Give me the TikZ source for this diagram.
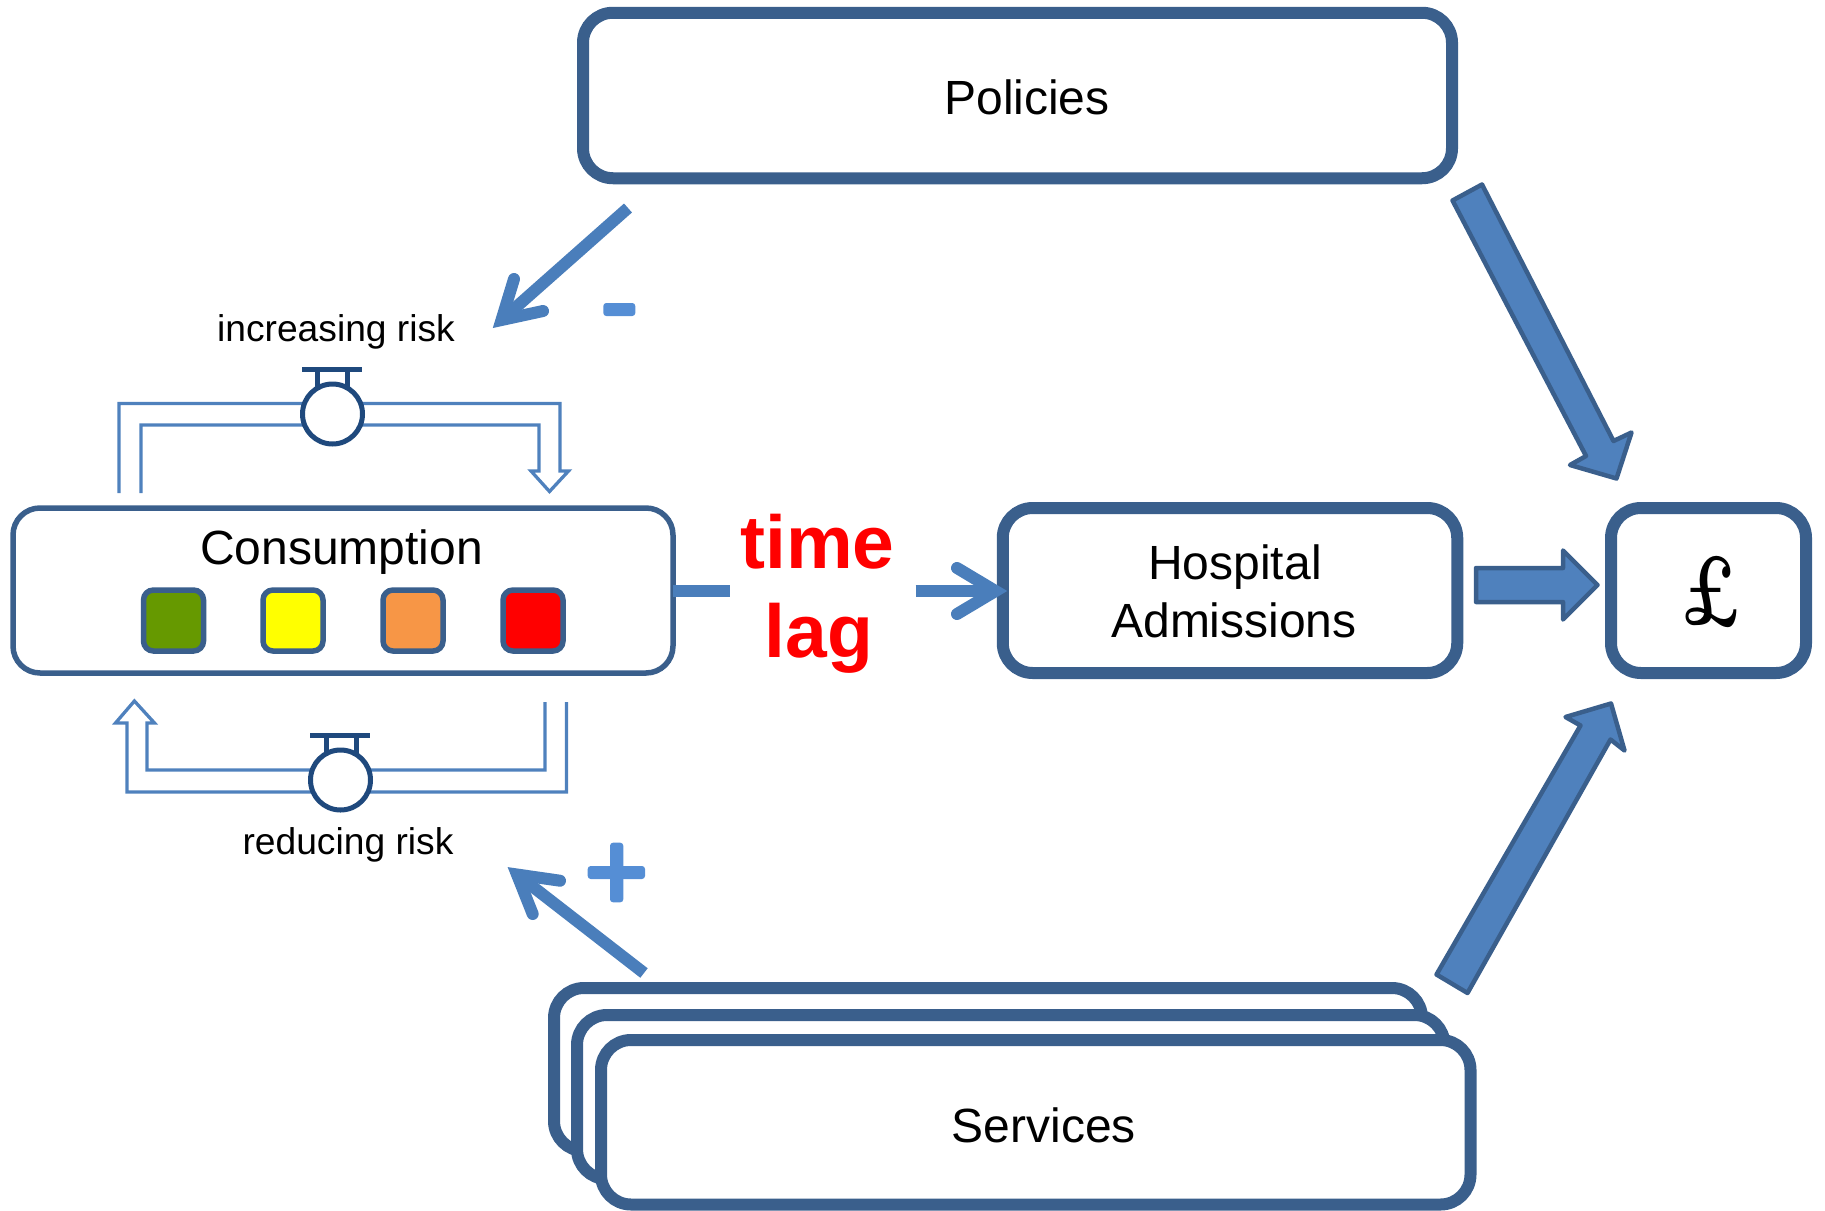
\documentclass[tikz,border=0pt]{standalone}
\usepackage{fontspec}
\setmainfont{Liberation Sans}
\newfontfamily\lmfont{Latin Modern Roman}
\definecolor{boxc}{HTML}{3A5F8C}
\definecolor{fillc}{HTML}{4F81BD}
\definecolor{thinc}{HTML}{4A7EBB}
\definecolor{valvec}{HTML}{1F497D}
\definecolor{signc}{HTML}{558ED5}
\definecolor{lampg}{RGB}{102,153,0}
\definecolor{lampy}{RGB}{255,255,0}
\definecolor{lampo}{RGB}{247,150,70}
\definecolor{lampr}{RGB}{255,0,0}
\tikzset{
  x=1pt,y=-1pt,
  bigbox/.style={draw=boxc,fill=white,line width=12pt,rounded corners=30pt,inner sep=0pt,outer sep=0pt},
  consbox/.style={draw=boxc,fill=white,line width=5.5pt,rounded corners=27pt,inner sep=0pt,outer sep=0pt},
  lamp/.style={draw=boxc,line width=5.5pt,rounded corners=10pt,inner sep=0pt,outer sep=0pt,minimum width=60pt,minimum height=61pt},
  lbl/.style={anchor=base,inner sep=0pt,outer sep=0pt,text=black},
  bigtxt/.style={lbl,font=\fontsize{48}{58}\selectfont},
  smalltxt/.style={lbl,font=\fontsize{37.2}{44}\selectfont},
  lagtxt/.style={lbl,text=lampr,font=\fontsize{75}{88}\selectfont\bfseries},
  blockarrow/.style={draw=boxc,fill=fillc,line width=4.5pt,line join=round},
  pipe/.style={draw=fillc,line width=3.3pt,line join=miter},
  valve/.style={draw=valvec,fill=white,line width=5pt,circle,minimum size=60pt,inner sep=0pt,outer sep=0pt},
  valvebar/.style={draw=valvec,line width=5.5pt},
  valvestem/.style={draw=valvec,line width=5pt},
  thinshaft/.style={draw=thinc,line width=12pt},
  thinhead/.style={draw=thinc,line width=12pt,line cap=round,line join=miter},
  signbar/.style={fill=signc,rounded corners=3pt,inner sep=0pt,outer sep=0pt}
}
\begin{document}
\begin{tikzpicture}
\useasboundingbox (0,0) rectangle (1825,1210);

% main boxes
\node[bigbox,minimum width=869pt,minimum height=165.5pt] (policies) at (1017.5,95.5) {};
\node[bigbox,minimum width=454.5pt,minimum height=165pt] (hospital) at (1230,590.5) {};
\node[bigbox,minimum width=195pt,minimum height=165pt] (pound) at (1708.5,590.5) {};
\node[bigbox,minimum width=868pt,minimum height=163pt] (serv1) at (988,1069.5) {};
\node[bigbox,minimum width=867.5pt,minimum height=164pt] (serv2) at (1010.75,1097) {};
\node[bigbox,minimum width=869.5pt,minimum height=164.5pt] (serv3) at (1035.75,1122.25) {};
\node[consbox,minimum width=660pt,minimum height=165pt] (consumption) at (343,590.5) {};

% lamps
\node[lamp,fill=lampg] (lamp1) at (173.5,620.5) {};
\node[lamp,fill=lampy] (lamp2) at (293,620.5) {};
\node[lamp,fill=lampo] (lamp3) at (413,620.5) {};
\node[lamp,fill=lampr] (lamp4) at (533,620.5) {};

% texts
\node[bigtxt] (tpolicies) at (1027,114) {Policies};
\node[bigtxt] (tconsumption) at (341.5,564) {Consumption};
\node[bigtxt] (tservices) at (1043.7,1142) {Services};
\node[bigtxt] (thospital) at (1235,579) {Hospital};
\node[bigtxt] (tadmissions) at (1234,637) {Admissions};
\node[lagtxt] (ttime) at (817.5,568) {time};
\node[lagtxt] (tlag) at (819,657.5) {lag};
\node[smalltxt] (tinc) at (336,341) {increasing risk};
\node[smalltxt] (tred) at (348,854.6) {reducing risk};
\node[anchor=center,inner sep=0pt,outer sep=0pt,font=\fontsize{88}{88}\selectfont\lmfont\bfseries,xscale=0.8,yscale=1.13,transform shape] (tpound) at (1711,592) {£};

% pipes
\draw[pipe] (119,493) -- (119,403.5) -- (560,403.5) -- (560,471) -- (568.5,471) -- (549.5,491.5) -- (531,471) -- (539,471) -- (539,425) -- (141,425) -- (141,493);
\draw[pipe] (566.5,702) -- (566.5,792) -- (127,792) -- (127,723) -- (115.5,723) -- (134.4,701) -- (154.5,723) -- (147,723) -- (147,770) -- (545,770) -- (545,702);

% valves
\coordinate (bar1a) at (302,369.6); \coordinate (bar1b) at (362,369.6);
\coordinate (bar2a) at (310,735.7); \coordinate (bar2b) at (370,735.7);
\coordinate (st1a) at (317,369.6); \coordinate (st1b) at (347,369.6);
\coordinate (st1c) at (317,392); \coordinate (st1d) at (347,392);
\coordinate (st2a) at (326,735.7); \coordinate (st2b) at (356,735.7);
\coordinate (st2c) at (326,758); \coordinate (st2d) at (356,758);
\draw[valvestem] (st1a) -- (st1c); \draw[valvestem] (st1b) -- (st1d);
\draw[valvestem] (st2a) -- (st2c); \draw[valvestem] (st2b) -- (st2d);
\draw[valvebar] (bar1a) -- (bar1b);
\draw[valvebar] (bar2a) -- (bar2b);
\node[valve] (valve1) at (332.5,414) {};
\node[valve] (valve2) at (340.5,780) {};

% block arrows
\draw[blockarrow] (1482,184.5) -- (1613.5,441) -- (1631.5,432.5) -- (1616.5,478.5) -- (1570,465) -- (1586,456) -- (1452.5,200.5) -- cycle;
\draw[blockarrow] (1476,568) -- (1563,568) -- (1563,550.5) -- (1597.5,585) -- (1563,619.5) -- (1563,602) -- (1476,602) -- cycle;
\draw[blockarrow] (1436.5,974.5) -- (1467.5,993) -- (1610.5,739.5) -- (1624.5,750.5) -- (1611,703.5) -- (1565.5,717) -- (1580.5,725.5) -- cycle;

% thin connectors
\coordinate (dashend) at (730,590.5);
\draw[thinshaft] (consumption.east) -- (dashend);
\coordinate (lagstart) at (915.6,591); \coordinate (lagv) at (995.5,591);
\coordinate (lagb1) at (957,568); \coordinate (lagb2) at (957,614);
\draw[thinshaft] (lagstart) -- (lagv);
\draw[thinhead] (lagb1) -- (lagv) -- (lagb2);

\coordinate (minstart) at (628,208); \coordinate (minv) at (501.5,320);
\coordinate (minb1) at (514,279); \coordinate (minb2) at (543,311);
\draw[thinshaft] (minstart) -- (minv);
\draw[thinhead] (minb1) -- (minv) -- (minb2);

\coordinate (plustart) at (644,973); \coordinate (pluv) at (517,874.5);
\coordinate (plub1) at (560,880.7); \coordinate (plub2) at (532.7,914);
\draw[thinshaft] (plustart) -- (pluv);
\draw[thinhead] (plub1) -- (pluv) -- (plub2);

% signs
\node[signbar,minimum width=32pt,minimum height=13pt] (minus) at (619.3,309.5) {};
\node[signbar,minimum width=57.3pt,minimum height=13pt] (plush) at (616.35,872.5) {};
\node[signbar,minimum width=13.3pt,minimum height=59.6pt] (plusv) at (616.65,872.5) {};
\end{tikzpicture}
\end{document}
